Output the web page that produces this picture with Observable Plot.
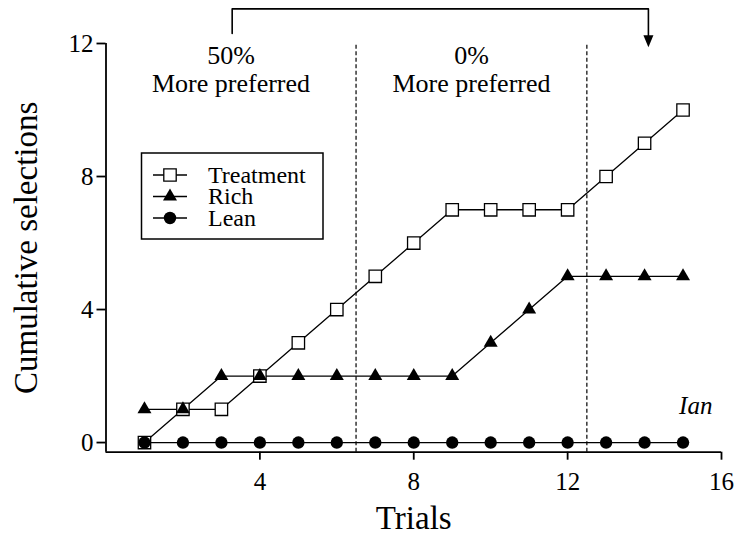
<!DOCTYPE html>
<html>
<head>
<meta charset="utf-8">
<script src="https://cdn.jsdelivr.net/npm/d3@7"></script>
<script src="https://cdn.jsdelivr.net/npm/@observablehq/plot@0.6"></script>
<style>
  body { margin: 0; background: #fff; font-family: "Liberation Serif", "DejaVu Serif", "Times New Roman", Times, serif; }
  #chart svg, #chart svg text, #chart svg tspan { font-family: "Liberation Serif", "DejaVu Serif", "Times New Roman", Times, serif !important; }
  #chart svg g[aria-label$="-axis tick"] { stroke-width: 1.8px; }
  #chart svg g[aria-label$="-axis tick label"] { font-size: 25px; }
</style>
</head>
<body>
<div id="chart"></div>
<script>
// ---- data ----
const trials = [1, 2, 3, 4, 5, 6, 7, 8, 9, 10, 11, 12, 13, 14, 15];
const treatment = [0, 1, 1, 2, 3, 4, 5, 6, 7, 7, 7, 7, 8, 9, 10];
const rich = [1, 1, 2, 2, 2, 2, 2, 2, 2, 3, 4, 5, 5, 5, 5];
const lean = [0, 0, 0, 0, 0, 0, 0, 0, 0, 0, 0, 0, 0, 0, 0];
const seriesNames = ["Treatment", "Rich", "Lean"];
const xTicks = [4, 8, 12, 16];
const yTicks = [0, 4, 8, 12];
const phaseBreaks = [6.5, 12.5];
const phaseLabels = ["50%\nMore preferred", "0%\nMore preferred"];
const subjectLabel = "Ian";
const xTitle = "Trials";
const yTitle = "Cumulative selections";

// ---- build tables ----
const toRows = (vals) => trials.map((t, i) => ({trial: t, value: vals[i]}));
const treatRows = toRows(treatment);
const richRows = toRows(rich);
const leanRows = toRows(lean);

const xDomain = [0, 16];
const yDomain = [-0.29, 12];
const phaseStarts = [xDomain[0], ...phaseBreaks];
const labelRows = phaseLabels.map((t, i) => ({x: (phaseStarts[i] + phaseStarts[i + 1]) / 2, text: t}));

// annotation arrow (data coordinates)
const arrowPath = [[3.28, 12.3], [3.28, 13.04], [14.1, 13.04], [14.1, 12.1]];
const arrowTip = [[14.1, 11.89]];
const arrowHead = {
  draw(ctx, size) {
    const r = Math.sqrt(size / Math.PI);
    ctx.moveTo(-r, -2.4 * r);
    ctx.lineTo(r, -2.4 * r);
    ctx.lineTo(0, 0);
    ctx.closePath();
  }
};

const font = "Liberation Serif, DejaVu Serif, Times New Roman, serif";

const svg = Plot.plot({
  width: 739,
  height: 542,
  marginLeft: 105.5,
  marginRight: 18,
  marginTop: 43,
  marginBottom: 90.3,
  style: "background: white; color: black; overflow: visible; font-family: 'Liberation Serif', 'DejaVu Serif', serif; font-size: 25px;",
  x: {domain: xDomain, ticks: xTicks, tickSize: 8, tickPadding: 12, label: null},
  y: {domain: yDomain, ticks: yTicks, tickSize: 9, tickPadding: 3.5, label: null},
  marks: [
    // axis lines
    Plot.ruleY([yDomain[0]], {stroke: "black", strokeWidth: 1.8}),
    Plot.ruleX([xDomain[0]], {stroke: "black", strokeWidth: 1.8}),
    // phase lines
    Plot.ruleX(phaseBreaks, {y1: yDomain[0], y2: 12, stroke: "black", strokeWidth: 1.2, strokeDasharray: "4,2.5"}),
    // phase labels
    Plot.text(labelRows, {x: "x", y: 10.53, text: "text", textAnchor: "middle", lineAnchor: "bottom", lineHeight: 1.09, fontSize: 26, fill: "black"}),
    // arrow
    Plot.line(arrowPath, {x: d => d[0], y: d => d[1], stroke: "black", strokeWidth: 1.6, curve: "linear"}),
    Plot.dot(arrowTip, {x: d => d[0], y: d => d[1], symbol: arrowHead, r: 5, fill: "black", stroke: "none"}),
    // series lines
    Plot.line(treatRows, {x: "trial", y: "value", stroke: "black", strokeWidth: 1.3}),
    Plot.line(richRows, {x: "trial", y: "value", stroke: "black", strokeWidth: 1.3}),
    Plot.line(leanRows, {x: "trial", y: "value", stroke: "black", strokeWidth: 1.3}),
    // series markers
    Plot.dot(treatRows, {x: "trial", y: "value", symbol: "square", r: 7, fill: "white", stroke: "black", strokeWidth: 1.3}),
    Plot.dot(richRows, {x: "trial", y: "value", symbol: "triangle", r: 5.2, fill: "black", stroke: "none"}),
    Plot.dot(leanRows, {x: "trial", y: "value", symbol: "circle", r: 6.2, fill: "black", stroke: "none"}),
    // subject label
    Plot.text([subjectLabel], {x: 15.33, y: 0.87, text: d => d, textAnchor: "middle", lineAnchor: "bottom", fontStyle: "italic", fontSize: 25, fill: "black"}),
    // axis titles
    Plot.text([xTitle], {frameAnchor: "bottom", dy: 77, textAnchor: "middle", lineAnchor: "bottom", text: d => d, fontSize: 33, fill: "black"}),
    Plot.text([yTitle], {frameAnchor: "left", dx: -69.5, rotate: -90, textAnchor: "middle", lineAnchor: "bottom", text: d => d, fontSize: 33, fill: "black"})
  ]
});

// ---- legend ----
const legendSpecs = [
  {symbol: d3.symbolSquare, r: 7, fill: "white", stroke: "black"},
  {symbol: d3.symbolTriangle, r: 5.2, fill: "black", stroke: "none"},
  {symbol: d3.symbolCircle, r: 6.2, fill: "black", stroke: "none"}
];
const lg = d3.select(svg).append("g").attr("font-family", font).attr("text-anchor", "start");
lg.append("rect").attr("x", 141.5).attr("y", 153).attr("width", 181.5).attr("height", 86)
  .attr("fill", "white").attr("stroke", "black").attr("stroke-width", 1.5);
const rowY = [175, 196.5, 218];
seriesNames.forEach((name, i) => {
  const s = legendSpecs[i];
  const y = rowY[i];
  lg.append("line").attr("x1", 153).attr("x2", 187).attr("y1", y).attr("y2", y)
    .attr("stroke", "black").attr("stroke-width", 1.3);
  lg.append("path").attr("transform", `translate(170,${y})`)
    .attr("d", d3.symbol(s.symbol, Math.PI * s.r * s.r)())
    .attr("fill", s.fill).attr("stroke", s.stroke).attr("stroke-width", 1.3);
  lg.append("text").attr("x", 208).attr("y", y).attr("dy", "0.33em")
    .attr("text-anchor", "start").attr("font-size", 24).attr("fill", "black").text(name);
});

document.getElementById("chart").appendChild(svg);
</script>
</body>
</html>
